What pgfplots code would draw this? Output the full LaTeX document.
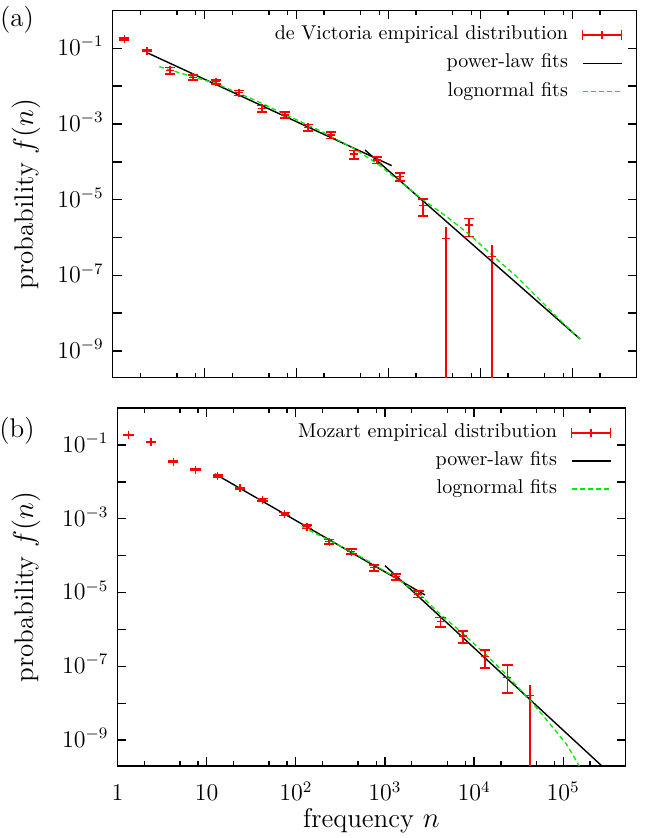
\documentclass[border=0pt]{standalone}
\usepackage{pgfplots}
\pgfplotsset{compat=1.18}
\definecolor{lgreen}{rgb}{0,0.92,0}
\pgfplotsset{
  every axis/.append style={
    scale only axis,
    axis line style={line width=0.7pt},
    tick style={line width=0.7pt, black},
    major tick length=4.5pt, minor tick length=2.4pt,
    tick align=inside,
    tick label style={font=\fontsize{11.5}{13}\selectfont},
    yticklabel style={anchor=base east, yshift=-3.7pt, xshift=-1pt},
    xticklabel style={anchor=base, yshift=-17.5pt},
    label style={font=\fontsize{13.5}{16}\selectfont},
    legend cell align=right,
    legend plot pos=right,
    legend style={draw=none, fill=none, inner sep=0pt, outer sep=0pt,
      font=\fontsize{10}{12}\selectfont,
      at={(1,1)}, anchor=north east, xshift=-7pt, yshift=-7.65pt,
      row sep=4.6pt, column sep=7pt,
      nodes={inner sep=0pt, text height=7pt, text depth=2.5pt}},
  },
}
\newcommand{\errleg}{\draw[draw=red, line width=0.75pt] (0pt,0pt) -- (19.5pt,0pt);
      \draw[draw=red, line width=0.75pt] (0pt,-2.5pt) -- (0pt,2.5pt);
      \draw[draw=red, line width=0.75pt] (19.5pt,-2.5pt) -- (19.5pt,2.5pt);
      \draw[draw=red, line width=0.75pt] (9.75pt,-2pt) -- (9.75pt,2pt);}
% one error bar: x, low, high
\newcommand{\ebar}[3]{\addplot[forget plot, draw=red, line width=0.8pt, mark=-, mark size=2.6pt,
  mark options={draw=red, line width=0.8pt}] coordinates {(#1,#2) (#1,#3)};}
% error bar whose lower end is below the axis: x, high
\newcommand{\ebarcut}[2]{\addplot[forget plot, draw=red, line width=0.8pt, mark=-, mark size=2.6pt,
  mark indices={2}, mark options={draw=red, line width=0.8pt}] coordinates {(#1,1e-12) (#1,#2)};}
\begin{document}
\begin{tikzpicture}
\useasboundingbox (0pt,0pt) rectangle (323pt,419pt);
% ---------------- panel (a)
\begin{axis}[width=261.9pt, height=183.5pt, at={(56.35pt,230.27pt)}, anchor=south west,
  xmode=log, ymode=log,
  xmin=1, xmax=5e5, ymin=2e-10, ymax=1,
  xtick={1,10,100,1000,10000,100000},
  minor xtick={2,5,8,20,50,80,200,500,800,2000,5000,8000,20000,50000,80000,200000},
  ytick={1e-1,1e-2,1e-3,1e-4,1e-5,1e-6,1e-7,1e-8,1e-9},
  minor ytick={1e-20},
  yticklabels={$10^{-1}$,,$10^{-3}$,,$10^{-5}$,,$10^{-7}$,,$10^{-9}$},
  xticklabels={},
  ylabel={probability $f(n)$},
  ylabel style={at={(axis description cs:-0.1655,0.5)}, anchor=center}]
\ebar{1.334}{0.1654}{0.1866}
\ebar{2.371}{0.08131}{0.09169}
\ebar{4.217}{0.02096}{0.03144}
\ebar{7.499}{0.014535}{0.019665}
\ebar{13.34}{0.011528}{0.014672}
\ebar{23.71}{0.0057035}{0.0077165}
\ebar{42.17}{0.002072}{0.003108}
\ebar{74.99}{0.0014186}{0.0020414}
\ebar{133.4}{6.52e-4}{9.78e-4}
\ebar{237.1}{4.104e-4}{6.156e-4}
\ebar{421.7}{1.2075e-4}{2.0125e-4}
\ebar{749.9}{8.96e-5}{1.344e-4}
\ebar{1334}{3.1185e-5}{4.9815e-5}
\ebar{2371}{3.64e-6}{1.036e-5}
\ebarcut{4217}{1.9e-6}
\ebar{7499}{1.065e-6}{3.195e-6}
\ebarcut{13335}{6.2e-7}
\addplot[forget plot, only marks, mark=+, mark size=2pt, mark options={draw=red, line width=0.7pt}] coordinates {
(1.334,0.176) (2.371,0.0865) (4.217,0.0262) (7.499,0.0171) (13.34,0.0131) (23.71,0.00671)
(42.17,0.00259) (74.99,0.00173) (133.4,8.15e-4) (237.1,5.13e-4) (421.7,1.61e-4) (749.9,1.12e-4)
(1334,4.05e-5) (2371,7.0e-6) (4217,9.5e-7) (7499,2.13e-6) (13335,3.1e-7)
};
\addlegendimage{legend image code/.code={\errleg}}
\addlegendentry{de Victoria empirical distribution}
\addplot[draw=black, line width=0.7pt, no marks, forget plot] coordinates {(2.44,0.0738) (1086,7.91e-5)};
\addplot[draw=black, line width=0.7pt, no marks, forget plot] coordinates {(556,2.05e-4) (121600,2.08e-9)};
\addlegendimage{legend image code/.code={\draw[draw=black, line width=0.7pt] (0pt,0pt) -- (19.5pt,0pt);}}
\addlegendentry{power-law fits}
\addplot[draw=lgreen, line width=0.65pt, no marks, dash pattern=on 2.4pt off 1.6pt, forget plot] coordinates {
(3.214,3.266e-2) (6.934,1.854e-2) (13.06,1.189e-2) (36.9,4.046e-3) (84.9,1.560e-3)
(195.9,6.026e-4) (415,2.275e-4) (746.4,9.14e-5) (1337,2.985e-5) (2399,9.79e-6)
(4305,3.548e-6) (7727,1.164e-6) (12764,3.82e-7) (24889,9.20e-8) (48417,1.824e-8)
(79983,5.41e-9) (121619,2.080e-9)
};
\addlegendimage{legend image code/.code={\draw[draw=lgreen, line width=0.8pt, dash pattern=on 2.4pt off 1.6pt] (0pt,0pt) -- (19.5pt,0pt);}}
\addlegendentry{lognormal fits}
\end{axis}
% ---------------- panel (b)
\begin{axis}[width=254pt, height=178.95pt, at={(58.75pt,36.05pt)}, anchor=south west,
  xmode=log, ymode=log,
  xmin=1, xmax=5e5, ymin=2e-10, ymax=1,
  xtick={1,10,100,1000,10000,100000},
  minor xtick={2,5,8,20,50,80,200,500,800,2000,5000,8000,20000,50000,80000,200000},
  ytick={1e-1,1e-2,1e-3,1e-4,1e-5,1e-6,1e-7,1e-8,1e-9},
  minor ytick={1e-20},
  yticklabels={$10^{-1}$,,$10^{-3}$,,$10^{-5}$,,$10^{-7}$,,$10^{-9}$},
  xticklabels={$1$,$10$,$10^2$,$10^3$,$10^4$,$10^5$},
  xlabel={frequency $n$},
  xlabel style={at={(axis description cs:0.5,0)}, anchor=center, yshift=-27.5pt},
  ylabel={probability $f(n)$},
  ylabel style={at={(axis description cs:-0.1801,0.5)}, anchor=center}]
\ebar{1.334}{0.1833}{0.1907}
\ebar{2.371}{0.1181}{0.1229}
\ebar{4.217}{0.03424}{0.03636}
\ebar{7.499}{0.02016}{0.02184}
\ebar{13.34}{0.01373}{0.01517}
\ebar{23.71}{0.006279}{0.007081}
\ebar{42.17}{0.002981}{0.003499}
\ebar{74.99}{0.001215}{0.001485}
\ebar{133.4}{5.377e-4}{6.843e-4}
\ebar{237.1}{2.04e-4}{2.76e-4}
\ebar{421.7}{1.0965e-4}{1.4835e-4}
\ebar{749.9}{3.879e-5}{5.581e-5}
\ebar{1334}{2.214e-5}{3.186e-5}
\ebar{2371}{7.328e-6}{1.099e-5}
\ebar{4217}{1.141e-6}{2.119e-6}
\ebar{7499}{4.336e-7}{9.005e-7}
\ebar{13335}{9.15e-8}{2.745e-7}
\ebar{23714}{1.862e-8}{1.078e-7}
\ebarcut{42170}{3.2e-8}
\addplot[forget plot, only marks, mark=+, mark size=2pt, mark options={draw=red, line width=0.7pt}] coordinates {
(1.334,0.187) (2.371,0.1205) (4.217,0.0353) (7.499,0.0210) (13.34,0.01445) (23.71,0.00668)
(42.17,0.00324) (74.99,0.00135) (133.4,6.11e-4) (237.1,2.40e-4) (421.7,1.29e-4) (749.9,4.73e-5)
(1334,2.70e-5) (2371,9.16e-6) (4217,1.63e-6) (7499,6.67e-7) (13335,1.83e-7) (23714,4.9e-8)
(42170,1.6e-8)
};
\addlegendimage{legend image code/.code={\errleg}}
\addlegendentry{Mozart empirical distribution}
\addplot[draw=black, line width=0.7pt, no marks, forget plot] coordinates {(12.4,1.637e-2) (2812,8.61e-6)};
\addplot[draw=black, line width=0.7pt, no marks, forget plot] coordinates {(1001,5.36e-5) (271000,2.0e-10)};
\addlegendimage{legend image code/.code={\draw[draw=black, line width=0.7pt] (0pt,0pt) -- (19.5pt,0pt);}}
\addlegendentry{power-law fits}
\addplot[draw=lgreen, line width=0.65pt, no marks, dash pattern=on 2.4pt off 1.6pt, forget plot] coordinates {
(116.4,6.11e-4) (242.1,2.553e-4) (571.5,8.49e-5) (1355,2.443e-5) (2472,8.71e-6)
(4140,2.63e-6) (7568,7.59e-7) (13243,2.188e-7) (23227,5.75e-8) (42364,1.230e-8)
(70958,2.754e-9) (109396,7.59e-10) (151356,2.0e-10)
};
\addlegendimage{legend image code/.code={\draw[draw=lgreen, line width=0.8pt, dash pattern=on 2.4pt off 1.6pt] (0pt,0pt) -- (19.5pt,0pt);}}
\addlegendentry{lognormal fits}
\end{axis}
\node[font=\fontsize{13.5}{16}\selectfont] at (8.5pt,409pt) {(a)};
\node[font=\fontsize{13.5}{16}\selectfont] at (8.5pt,203.5pt) {(b)};
\end{tikzpicture}
\end{document}
